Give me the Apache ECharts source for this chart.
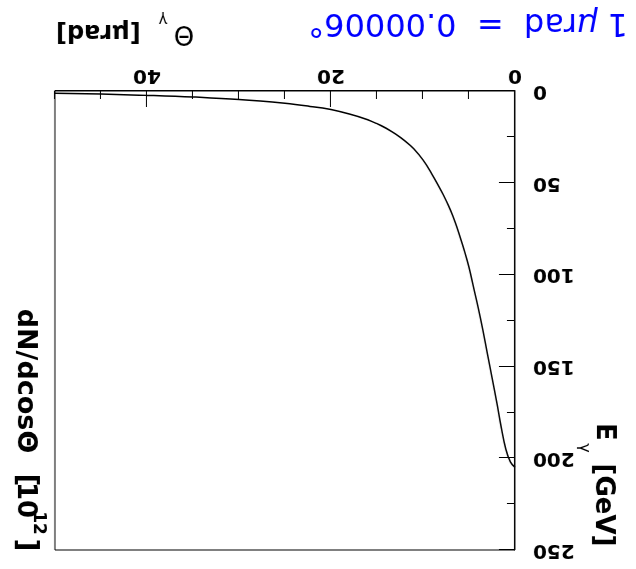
<!DOCTYPE html>
<html>
<head>
<meta charset="utf-8">
<script src="https://cdn.jsdelivr.net/npm/echarts@6/dist/echarts.min.js"></script>
<style>
  html, body { margin: 0; padding: 0; background: #fff; }
  #wrap { width: 636px; height: 569px; transform: rotate(180deg); transform-origin: 50% 50%; }
  #chart { width: 636px; height: 569px; }
</style>
</head>
<body>
<div id="wrap"><div id="chart"></div></div>
<script>
// Photon angle (µrad) vs photon energy (GeV)
const thetaValues  = [0, 0.5, 1, 1.5, 2, 2.5, 3, 3.5, 4, 4.5, 5, 5.5, 6, 6.5, 7, 7.5, 8, 9, 10, 11, 12, 13, 14, 15, 16, 18, 20, 22.5, 25, 30, 35, 40, 45, 50];
const energyValues = [205, 202, 195, 183, 169, 156, 143, 130, 118, 107, 96, 87, 79, 71.5, 65, 59.5, 54.5, 45.5, 37.5, 31.5, 27, 23.3, 20.3, 17.8, 15.7, 12.5, 10.1, 8.2, 6.7, 4.6, 3.3, 2.4, 1.7, 1.2];
const xTickLabels = ['0', '20', '40'];
const yTickLabels = ['0', '50', '100', '150', '200', '250'];
const noteText = '1 {m|μ}rad  =  0.00006°';

const FONT = 'DejaVu Sans';
const curve = thetaValues.map((t, i) => [t, energyValues[i]]);

const chart = echarts.init(document.getElementById('chart'), null, { renderer: 'canvas' });

function txt(text, x, y, size, weight, opts) {
  return Object.assign({
    type: 'text', x: x, y: y, silent: true,
    style: { text: text, fontFamily: FONT, fontSize: size, fontWeight: weight, fill: '#000', align: 'center', verticalAlign: 'middle' }
  }, opts || {});
}

const R = Math.PI / 2;

chart.setOption({
  animation: false,
  backgroundColor: '#fff',
  grid: { left: 121, top: 19, right: 55, bottom: 91, show: true, borderColor: '#000', borderWidth: 1, backgroundColor: 'transparent' },
  xAxis: [
    {
      type: 'value', min: 0, max: 50, interval: 20, position: 'bottom',
      axisLine: { show: true, lineStyle: { color: '#000', width: 1 } },
      axisTick: { show: true, inside: true, length: 16, lineStyle: { color: '#000', width: 1 } },
      axisLabel: { showMaxLabel: false, fontFamily: FONT, fontWeight: 'bold', fontSize: 20, color: '#000', margin: 6,
        formatter: v => xTickLabels.includes(String(v)) ? String(v) : '' },
      splitLine: { show: false }
    },
    {
      type: 'value', min: 0, max: 50, interval: 5, position: 'bottom',
      axisLine: { show: false },
      axisTick: { show: true, inside: true, length: 8, lineStyle: { color: '#000', width: 1 } },
      axisLabel: { show: false },
      splitLine: { show: false }
    }
  ],
  yAxis: {
    type: 'value', min: 0, max: 250, interval: 50,
    axisLine: { show: true, lineStyle: { color: '#000', width: 1 } },
    axisTick: { show: true, inside: true, length: 16, lineStyle: { color: '#000', width: 1 } },
    minorTick: { show: true, splitNumber: 2, length: 8, lineStyle: { color: '#000', width: 1 } },
    axisLabel: { fontFamily: FONT, fontWeight: 'bold', fontSize: 20, color: '#000', margin: 18,
      formatter: v => yTickLabels.includes(String(v)) ? String(v) : '' },
    splitLine: { show: false },
    minorSplitLine: { show: false }
  },
  series: [{
    type: 'line', xAxisIndex: 0, yAxisIndex: 0, data: curve,
    showSymbol: false, symbol: 'none', smooth: 0.4,
    lineStyle: { color: '#000', width: 1.5 }, clip: true
  }],
  graphic: [
    // blue conversion note
    { type: 'text', x: 8, y: 547, silent: true,
      style: { text: noteText, fontFamily: FONT, fontSize: 32, fill: '#0000ff', align: 'left', verticalAlign: 'middle',
        rich: { m: { fontFamily: FONT, fontSize: 32, fontStyle: 'italic', fill: '#0000ff' } } } },
    // x axis title: Θγ [µrad]
    txt('Θ', 452, 536, 26, 'normal'),
    txt('γ', 473, 550, 15, 'normal'),
    { type: 'text', x: 580, y: 538, silent: true,
      style: { text: '[μrad]', fontFamily: FONT, fontSize: 24, fontWeight: 'bold', fill: '#000', align: 'right', verticalAlign: 'middle' } },
    // y axis title: Eγ [GeV]
    txt('E', 32, 137, 26, 'bold', { rotation: R }),
    txt('γ', 52, 121, 16, 'normal', { rotation: R }),
    txt('[GeV]', 33, 64, 26, 'bold', { rotation: R }),
    // right title: dN/dcosΘ [10^12]
    txt('dN/dcosΘ', 611, 188, 27, 'bold', { rotation: R }),
    txt('[', 611, 89, 28, 'bold', { rotation: R }),
    txt('10', 611, 69, 26, 'bold', { rotation: R }),
    txt('12', 598, 46, 17, 'bold', { rotation: R }),
    txt(']', 611, 24, 28, 'bold', { rotation: R })
  ]
});
</script>
</body>
</html>
